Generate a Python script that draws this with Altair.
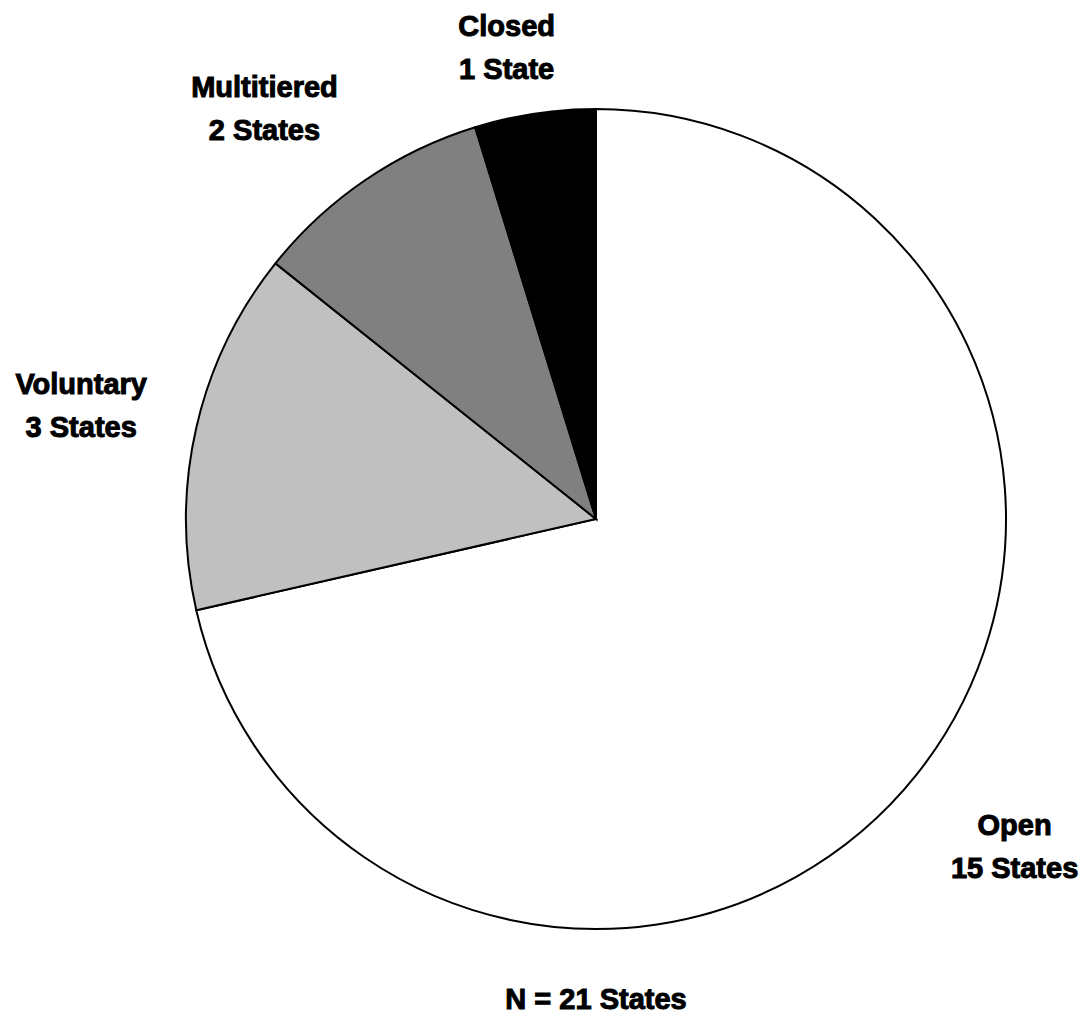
import altair as alt
import pandas as pd

categories = ["Open", "Voluntary", "Multitiered", "Closed"]
counts = [15, 3, 2, 1]
colors = ["#FFFFFF", "#C0C0C0", "#808080", "#000000"]

labels = [f"{c}\n{n} State{'s' if n > 1 else ''}" for c, n in zip(categories, counts)]
df = pd.DataFrame({"category": categories, "count": counts, "idx": list(range(len(categories))), "label": labels})

CX, CY = 588, 511
FONT = "Liberation Sans"
FS = 29

base = alt.Chart(df)

pie = base.mark_arc(outerRadius=410, stroke="#000000", strokeWidth=2).encode(
    theta=alt.Theta("count:Q", stack=True),
    order=alt.Order("idx:Q", sort="ascending"),
    color=alt.Color("category:N", scale=alt.Scale(domain=categories, range=colors), legend=None),
    x=alt.value(CX),
    y=alt.value(CY),
)

label_geom = {
    "Open": (532, -0.008),
    "Voluntary": (527, -0.009),
    "Multitiered": (527, -0.082),
    "Closed": (479, -0.038),
}

label_layers = []
for cat in categories:
    r, off = label_geom[cat]
    label_layers.append(
        base.mark_text(
            radius=r, thetaOffset=off, dy=-21, font=FONT, fontWeight="bold", fontSize=FS,
            stroke="#000000", strokeWidth=1,
            lineBreak="\n", lineHeight=43, align="center", baseline="middle", color="#000000",
        ).encode(
            theta=alt.Theta("count:Q", stack=True),
            order=alt.Order("idx:Q", sort="ascending"),
            text="label:N",
            x=alt.value(CX),
            y=alt.value(CY),
            opacity=alt.condition(alt.datum.category == cat, alt.value(1), alt.value(0)),
        )
    )

total = base.transform_aggregate(total="sum(count)").transform_calculate(
    txt='"N = " + datum.total + " States"'
).mark_text(font=FONT, fontWeight="bold", fontSize=FS, stroke="#000000", strokeWidth=1,
            align="center", baseline="middle", color="#000000").encode(
    text="txt:N", x=alt.value(CX), y=alt.value(992)
)

chart = alt.layer(pie, *label_layers, total).properties(
    width=1071, height=1010, padding=0, autosize=alt.AutoSizeParams(type="none")
).configure_view(stroke=None)

chart.save("out.html", embed_options={"renderer": "svg", "actions": False})
